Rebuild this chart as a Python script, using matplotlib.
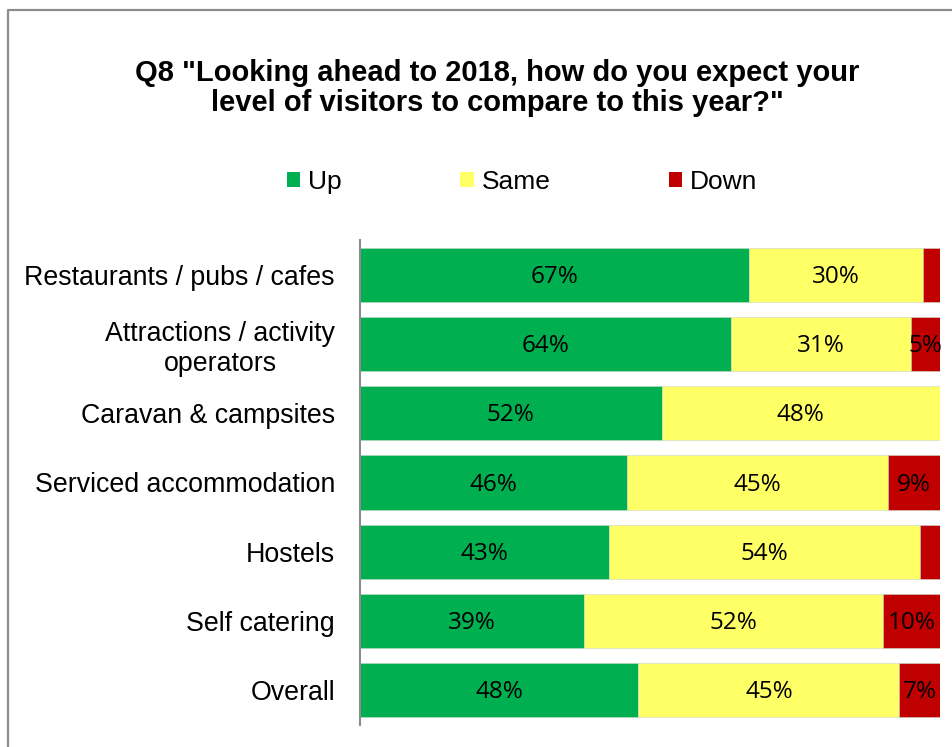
import numpy as np
import matplotlib.pyplot as plt
from matplotlib.lines import Line2D
from matplotlib.patches import Patch

# Survey responses by business type (percent of respondents)
categories = [
    "Restaurants / pubs / cafes",
    "Attractions / activity\noperators",
    "Caravan & campsites",
    "Serviced accommodation",
    "Hostels",
    "Self catering",
    "Overall",
]
up = [67, 64, 52, 46, 42.9, 38.6, 48]
same = [30, 31, 48, 45, 53.6, 51.6, 45]
down = [3, 5, 0, 9, 3.5, 9.8, 7]

series_names = ["Up", "Same", "Down"]
colors = ["#00B050", "#FFFF66", "#C00000"]

W, H = 952, 747
fig = plt.figure(figsize=(W / 100, H / 100), dpi=100)

# outer chart border (only top and left edges show)
fig.add_artist(Line2D([8 / W, 8 / W, 1.0], [0.0, 1 - 10 / H, 1 - 10 / H],
                      transform=fig.transFigure, color="#8c8c8c", lw=1.6))

ax = fig.add_axes([360 / W, 1 - 725 / H, 580 / W, 485 / H])

y = np.arange(len(categories))
left = np.zeros(len(categories))
for name, vals, col in zip(series_names, [up, same, down], colors):
    vals = np.array(vals, dtype=float)
    bars = ax.barh(y, vals, left=left, height=0.78, color=col,
                   edgecolor="#c8d8c8", linewidth=0.4, label=name)
    for b, v in zip(bars, vals):
        if v >= 4:
            ax.text(b.get_x() + b.get_width() / 2, b.get_y() + b.get_height() / 2 + 0.03,
                    f"{v:.0f}%", ha="center", va="center",
                    fontsize=17.5, family="Open Sans", color="black")
    left += vals

ax.set_xlim(0, 100)
ax.set_ylim(len(categories) - 0.5, -0.5)
ax.set_yticks(y)
ax.set_yticklabels(categories, fontsize=19.3, family="Liberation Sans")
for lbl in ax.get_yticklabels():
    lbl.set_multialignment("center")
ax.tick_params(axis="y", length=0, pad=18)
ax.set_xticks([])
for s in ["top", "right", "bottom"]:
    ax.spines[s].set_visible(False)
ax.spines["left"].set_color("#8c8c8c")
ax.spines["left"].set_linewidth(1.5)

fig.text(497 / W, 1 - 88 / H,
         'Q8 "Looking ahead to 2018, how do you expect your\nlevel of visitors to compare to this year?"',
         ha="center", va="center", fontsize=21, fontweight="bold",
         family="Liberation Sans", linespacing=1.08)

handles = [Patch(facecolor=c, edgecolor="none") for c in colors]
fig.legend(handles, series_names, loc="center left",
           bbox_to_anchor=(287 / W, 1 - 182 / H), ncol=3, frameon=False,
           prop={"family": "Liberation Sans", "size": 19},
           handlelength=0.5, handleheight=0.5, handletextpad=0.3,
           columnspacing=4.5, borderpad=0, borderaxespad=0)

fig.savefig("out.png", dpi=100)
